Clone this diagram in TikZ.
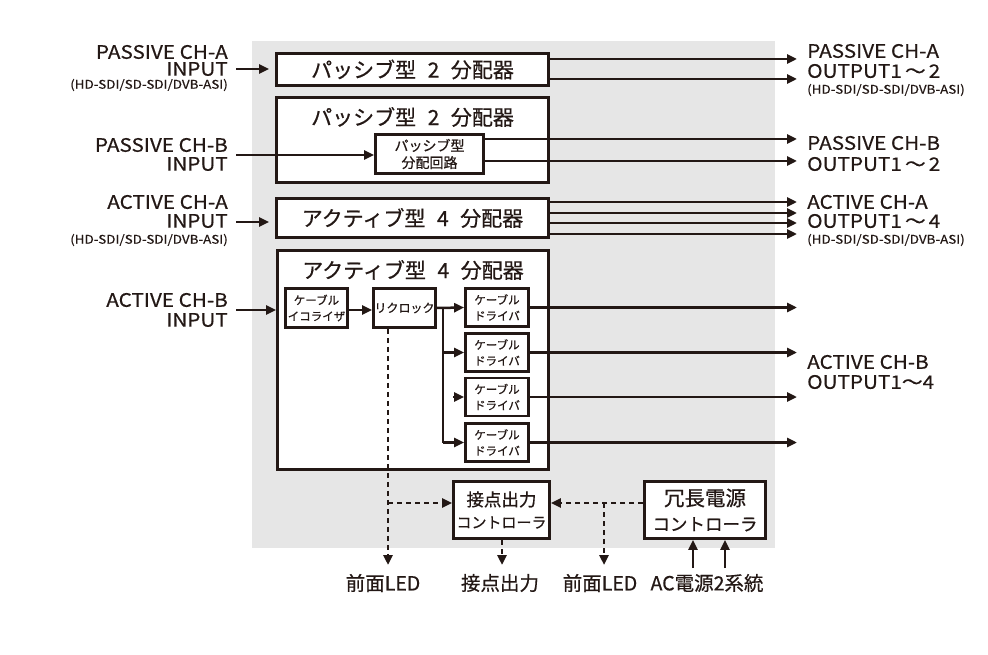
\documentclass[tikz,border=0pt]{standalone}
\usepackage{fontspec}
\setmainfont{Noto Sans CJK JP}[FakeBold=0.6]
\newfontfamily\lat{Noto Sans CJK JP}[FakeStretch=1.12,FakeBold=0.4]
\usetikzlibrary{arrows.meta}
\definecolor{ink}{HTML}{231815}
\definecolor{bgray}{HTML}{E6E6E6}
\newcommand\fsz[2]{\fontsize{#1}{#2}\selectfont}
\newcommand\gap{\hspace{0.55em}}
\begin{document}
\begin{tikzpicture}[x=1pt,y=-1pt,
  box/.style={draw=ink,line width=2.8pt,fill=white,inner sep=0pt,text=ink,align=center},
  arr/.style={draw=ink,line width=2.5pt,-{Triangle[length=10pt,width=9pt]}},
  wire/.style={draw=ink,line width=2.5pt},
  dotl/.style={draw=ink,line width=2.6pt,dash pattern=on 5pt off 4pt},
  lbl/.style={text=ink,inner sep=0pt},
  big/.style={font=\lat\fsz{18.5}{18.5}},
  small/.style={font=\lat\fsz{12}{12}},
  title/.style={font=\fsz{21}{24}},
  tiny/.style={font=\fsz{11.5}{16}},
  bottom/.style={font=\fsz{19.5}{19.5}}]
\useasboundingbox (0,0) rectangle (988,655);
\fill[bgray] (252,41) rectangle (775,548);

% boxes
\node[box,title,minimum width=272,minimum height=32] (b1) at (412.5,69.5) {パッシブ型\gap 2\gap 分配器};
\node[box,minimum width=272,minimum height=85] (b2) at (412.5,140) {};
\node[lbl,title] (t2) at (412.5,117) {パッシブ型\gap 2\gap 分配器};
\node[box,font=\fsz{14}{17},minimum width=108,minimum height=39] (pb) at (429.5,154) {パッシブ型\\分配回路};
\node[box,title,minimum width=272,minimum height=39] (b3) at (412.5,218) {アクティブ型\gap 4\gap 分配器};
\node[box,minimum width=271,minimum height=219] (b4) at (413,360) {};
\node[lbl,title] (t4) at (413,270) {アクティブ型\gap 4\gap 分配器};
\node[box,tiny,minimum width=62,minimum height=39] (eq) at (316.5,308) {ケーブル\\イコライザ};
\node[box,tiny,font=\fsz{12}{16},minimum width=62,minimum height=39] (rc) at (404.5,308) {リクロック};
\node[box,tiny,minimum width=63,minimum height=38] (d1) at (497,307.5) {ケーブル\\ドライバ};
\node[box,tiny,minimum width=63,minimum height=38] (d2) at (497,352.5) {ケーブル\\ドライバ};
\node[box,tiny,minimum width=63,minimum height=38] (d3) at (497,397) {ケーブル\\ドライバ};
\node[box,tiny,minimum width=63,minimum height=38] (d4) at (497,442.5) {ケーブル\\ドライバ};
\node[box,font=\fsz{15}{22},minimum width=96,minimum height=57] (ct) at (501.5,510) {{\fsz{17.5}{22}接点出力}\\コントローラ};
\node[box,font=\fsz{17.5}{25},minimum width=121,minimum height=57] (rd) at (705,510) {{\fsz{20.5}{25}冗長電源}\\コントローラ};

% left labels
\node[lbl,big,anchor=east] (la1) at (228,52) {PASSIVE CH-A};
\node[lbl,big,anchor=east] (la2) at (228,69) {INPUT};
\node[lbl,small,anchor=east] (la3) at (228,85) {(HD-SDI/SD-SDI/DVB-ASI)};
\node[lbl,big,anchor=east] (lb1) at (228,145) {PASSIVE CH-B};
\node[lbl,big,anchor=east] (lb2) at (228,164) {INPUT};
\node[lbl,big,anchor=east] (lc1) at (228,202) {ACTIVE CH-A};
\node[lbl,big,anchor=east] (lc2) at (228,221) {INPUT};
\node[lbl,small,anchor=east] (lc3) at (228,240) {(HD-SDI/SD-SDI/DVB-ASI)};
\node[lbl,big,anchor=east] (ld1) at (228,300) {ACTIVE CH-B};
\node[lbl,big,anchor=east] (ld2) at (228,320) {INPUT};

% right labels
\node[lbl,big,anchor=west] (ra1) at (807,51) {PASSIVE CH-A};
\node[lbl,big,anchor=west] (ra2) at (807,71) {OUTPUT1\,～\,2};
\node[lbl,small,anchor=west] (ra3) at (807,90) {(HD-SDI/SD-SDI/DVB-ASI)};
\node[lbl,big,anchor=west] (rb1) at (807,143) {PASSIVE CH-B};
\node[lbl,big,anchor=west] (rb2) at (807,164) {OUTPUT1\,～\,2};
\node[lbl,big,anchor=west] (rc1) at (807,202) {ACTIVE CH-A};
\node[lbl,big,anchor=west] (rc2) at (807,221) {OUTPUT1\,～\,4};
\node[lbl,small,anchor=west] (rc3) at (807,240) {(HD-SDI/SD-SDI/DVB-ASI)};
\node[lbl,big,anchor=west] (rd1) at (807,362) {ACTIVE CH-B};
\node[lbl,big,anchor=west] (rd2) at (807,382) {OUTPUT1～4};

% bottom labels
\node[lbl,bottom] (led1) at (383,583) {前面LED};
\node[lbl,bottom] (sp) at (500,583) {接点出力};
\node[lbl,bottom] (led2) at (600,583) {前面LED};
\node[lbl,bottom] (ac) at (707,583) {AC電源2系統};

% coordinates
\coordinate (ia) at (236,69);
\coordinate (ib) at (236,155);
\coordinate (ic) at (236,222);
\coordinate (id) at (236,310);
\coordinate (oa1) at (797,59);
\coordinate (oa2) at (797,79);
\coordinate (ob1) at (797,139);
\coordinate (ob2) at (797,161);
\coordinate (oc1) at (797,202);
\coordinate (oc2) at (797,213);
\coordinate (oc3) at (797,223);
\coordinate (oc4) at (797,234);
\coordinate (od) at (797,0);
\coordinate (vx) at (443,0);
\coordinate (tl1) at (388,565);
\coordinate (tl2) at (604,565);
\coordinate (tsp) at (502,565);
\coordinate (j1) at (388,503);
\coordinate (j2) at (604,503);
\coordinate (ac1) at (693,568);
\coordinate (ac2) at (725,568);

% inputs
\draw[arr,shorten >=6pt] (ia) -- (b1.west |- ia);
\draw[arr] (ib) -- (pb.west |- ib);
\draw[arr,shorten >=6pt] (ic) -- (b3.west |- ic);
\draw[arr] (id) -- (b4.west |- id);
\draw[arr] (eq.east |- id) -- (rc.west |- id);

% outputs
\draw[arr] (b1.east |- oa1) -- (oa1);
\draw[arr] (b1.east |- oa2) -- (oa2);
\draw[arr] (pb.east |- ob1) -- (ob1);
\draw[arr] (pb.east |- ob2) -- (ob2);
\draw[arr] (b3.east |- oc1) -- (oc1);
\draw[arr] (b3.east |- oc2) -- (oc2);
\draw[arr] (b3.east |- oc3) -- (oc3);
\draw[arr] (b3.east |- oc4) -- (oc4);
\draw[arr] (d1.east) -- (od |- d1.east);
\draw[arr] (d2.east) -- (od |- d2.east);
\draw[arr] (d3.east) -- (od |- d3.east);
\draw[arr] (d4.east) -- (od |- d4.east);

% reclock fan-out
\draw[arr] (rc.east) -- (d1.west);
\draw[wire] (vx |- d1.west) -- (vx |- d4.west);
\draw[arr] (vx |- d2.west) -- (d2.west);
\draw[arr,shorten <=10pt] (vx |- d3.west) -- (d3.west);
\draw[arr] (vx |- d4.west) -- (d4.west);

% dotted control lines
\draw[dotl,-{Triangle[length=10pt,width=9pt]}] (rc.south -| tl1) -- (tl1);
\draw[dotl,-{Triangle[length=10pt,width=9pt]}] (j1) -- (ct.west |- j1);
\draw[dotl,-{Triangle[length=10pt,width=9pt]}] (rd.west |- j2) -- (ct.east |- j2);
\draw[dotl,-{Triangle[length=10pt,width=9pt]}] (j2) -- (tl2);
\draw[dotl,-{Triangle[length=10pt,width=9pt]}] (ct.south -| tsp) -- (tsp);

% AC inputs
\draw[arr] (ac1) -- (rd.south -| ac1);
\draw[arr] (ac2) -- (rd.south -| ac2);
\end{tikzpicture}
\end{document}
